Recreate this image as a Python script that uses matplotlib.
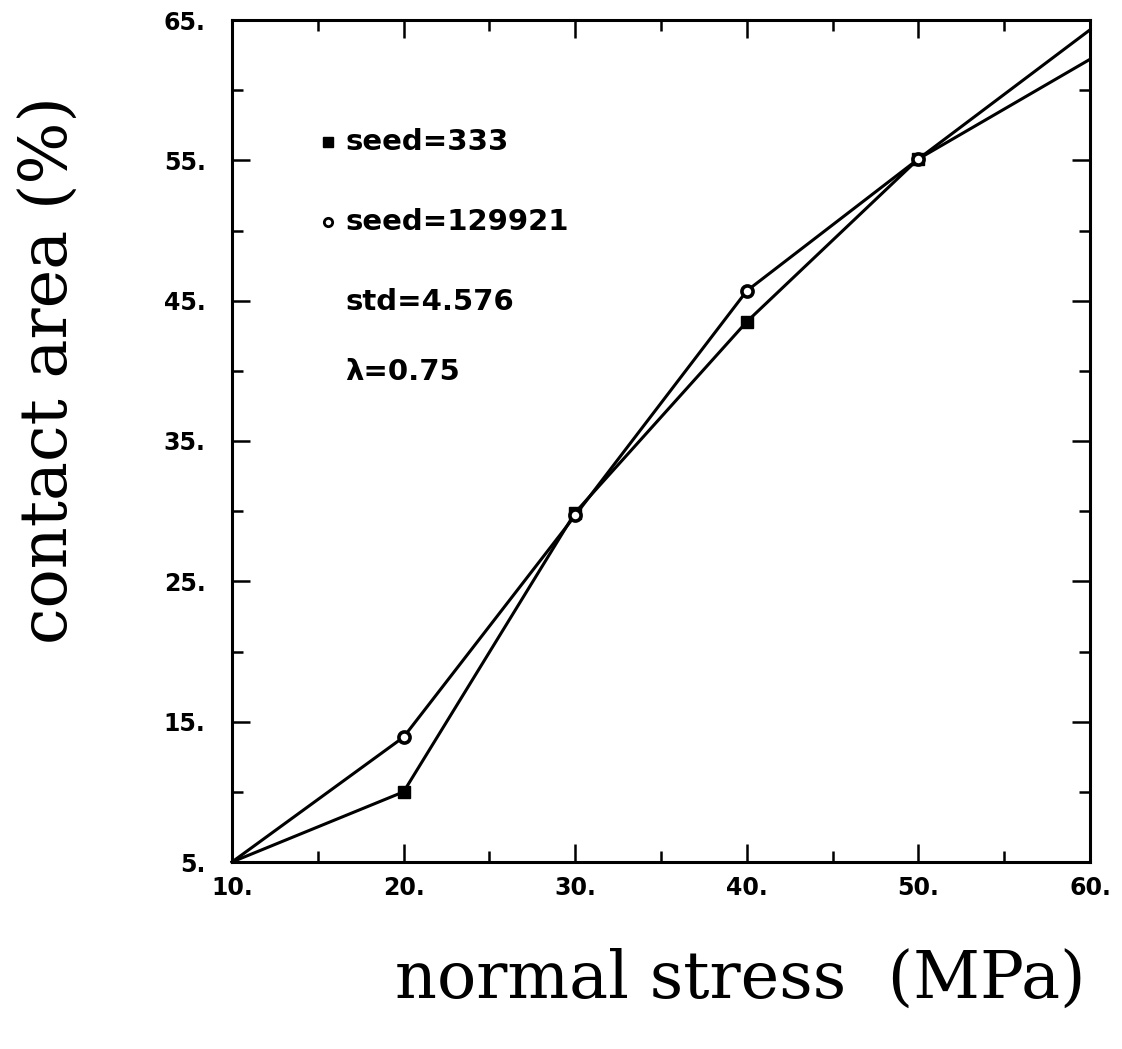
import matplotlib
matplotlib.use("Agg")
import matplotlib.pyplot as plt
from matplotlib.font_manager import FontProperties
from matplotlib.ticker import FixedLocator, FormatStrFormatter

# normal stress (MPa) and contact area (%)
stress = [10, 20, 30, 40, 50, 60]
area_seed333 = [5.0, 10.0, 29.9, 43.5, 55.1, 64.3]
area_seed129921 = [5.0, 13.9, 29.7, 45.7, 55.1, 62.2]

x_major = [10, 20, 30, 40, 50, 60]
x_minor = [15, 25, 35, 45, 55]
y_major = [5, 15, 25, 35, 45, 55, 65]
y_minor = [10, 20, 30, 40, 50, 60]

legend_lines = ["seed=333", "seed=129921", "std=4.576", "\u03bb=0.75"]

tick_font = FontProperties(family="DejaVu Sans", weight="bold", size=17)
label_font = dict(family="DejaVu Serif", size=47)

fig = plt.figure(figsize=(11.22, 10.49), dpi=100)
ax = fig.add_axes([232 / 1122, 1 - 862 / 1049, 858 / 1122, 842 / 1049])

# markers only at the interior points (ends sit on the frame)
ax.plot(stress, area_seed333, color="black", lw=2.2, marker="s", ms=9,
        markevery=[1, 2, 3, 4], clip_on=False, zorder=3)
ax.plot(stress, area_seed129921, color="black", lw=2.2, marker="o", ms=8,
        mfc="white", mec="black", mew=2.6, markevery=[1, 2, 3, 4],
        clip_on=False, zorder=3)

ax.set_xlim(10, 60)
ax.set_ylim(5, 65)
ax.xaxis.set_major_locator(FixedLocator(x_major))
ax.xaxis.set_minor_locator(FixedLocator(x_minor))
ax.yaxis.set_major_locator(FixedLocator(y_major))
ax.yaxis.set_minor_locator(FixedLocator(y_minor))
ax.xaxis.set_major_formatter(FormatStrFormatter("%d."))
ax.yaxis.set_major_formatter(FormatStrFormatter("%d."))

ax.tick_params(which="both", direction="in", top=True, right=True,
               width=1.8, color="black")
ax.tick_params(which="major", length=13)
ax.tick_params(which="minor", length=8)
ax.tick_params(axis="x", which="major", pad=10)
ax.tick_params(axis="y", which="major", pad=19)
for lab in ax.get_xticklabels() + ax.get_yticklabels():
    lab.set_fontproperties(tick_font)

for sp in ax.spines.values():
    sp.set_linewidth(2.2)

# hand-drawn legend block in the upper left
rows_y = [0.855, 0.760, 0.665, 0.582]
ax.plot([0.112], [rows_y[0]], marker="s", ms=7, color="black",
        transform=ax.transAxes, clip_on=False)
ax.plot([0.112], [rows_y[1]], marker="o", ms=6, mfc="white", mec="black",
        mew=2, transform=ax.transAxes, clip_on=False)
for txt, yy in zip(legend_lines, rows_y):
    ax.text(0.132, yy, txt, transform=ax.transAxes, ha="left", va="center",
            fontsize=21, fontweight="bold", family="DejaVu Sans")

fig.text(740 / 1122, 1 - 980 / 1049, "normal stress  (MPa)", ha="center",
         va="center", **label_font)
fig.text(50 / 1122, 1 - 370 / 1049, "contact area (%)", ha="center",
         va="center", rotation=90, **label_font)

fig.savefig("out.png", dpi=100)
